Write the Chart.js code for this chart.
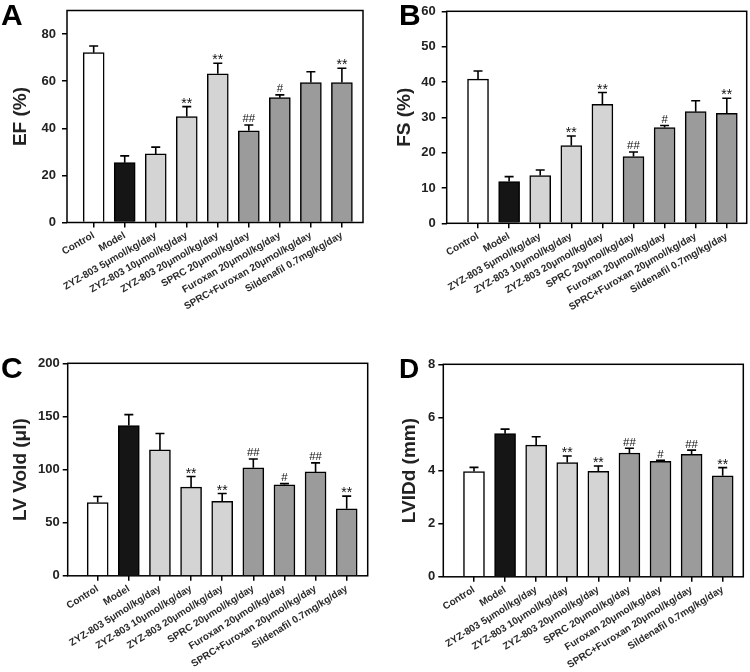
<!DOCTYPE html>
<html><head><meta charset="utf-8">
<script src="https://cdn.jsdelivr.net/npm/chart.js@4/dist/chart.umd.min.js"></script>
<style>
body{margin:0;background:#fff}
#wrap{position:relative;width:750px;height:672px;background:#fff}
canvas{position:absolute}
</style>
</head><body>
<div id="wrap">
<canvas id="cA" width="375" height="336" style="left:0;top:0"></canvas>
<canvas id="cB" width="375" height="336" style="left:375px;top:0"></canvas>
<canvas id="cC" width="375" height="336" style="left:0;top:336px"></canvas>
<canvas id="cD" width="375" height="336" style="left:375px;top:336px"></canvas>
</div>
<script>
// ---- data ----
const groups = ['Control','Model','ZYZ-803 5μmol/kg/day','ZYZ-803 10μmol/kg/day','ZYZ-803 20μmol/kg/day','SPRC 20μmol/kg/day','Furoxan 20μmol/kg/day','SPRC+Furoxan 20μmol/kg/day','Sildenafil 0.7mg/kg/day'];

const efMean = [72.1, 25.4, 29.1, 45.0, 63.1, 38.9, 53.0, 59.4, 59.4];
const efErr  = [2.8, 2.9, 2.9, 4.2, 4.5, 2.5, 1.2, 4.6, 6.1];
const efMarks = ['', '', '', '**', '**', '##', '#', '', '**'];
const efTicks = [0, 20, 40, 60, 80];

const fsMean = [40.8, 11.8, 13.5, 22.0, 33.7, 18.9, 27.1, 31.6, 31.1];
const fsErr  = [2.3, 1.4, 1.6, 2.7, 3.3, 1.3, 0.6, 3.1, 4.3];
const fsMarks = ['', '', '', '**', '**', '##', '#', '', '**'];
const fsTicks = [0, 10, 20, 30, 40, 50, 60];

const lvvMean = [69.0, 141.4, 118.5, 83.4, 70.0, 101.6, 85.6, 97.8, 63.0];
const lvvErr  = [5.6, 10.3, 15.5, 10.0, 7.4, 8.4, 1.2, 8.5, 12.0];
const lvvMarks = ['', '', '', '**', '**', '##', '#', '##', '**'];
const lvvTicks = [0, 50, 100, 150, 200];

const lviMean = [3.96, 5.39, 4.96, 4.30, 3.97, 4.66, 4.35, 4.61, 3.80];
const lviErr  = [0.16, 0.17, 0.31, 0.25, 0.20, 0.18, 0.04, 0.16, 0.31];
const lviMarks = ['', '', '', '**', '**', '##', '#', '##', '**'];
const lviTicks = [0, 2, 4, 6, 8];

// ---- styles ----
const barColors = ['#ffffff','#151515','#d4d4d4','#d4d4d4','#d4d4d4','#9b9b9b','#9b9b9b','#9b9b9b','#9b9b9b'];
const FAM = '"Liberation Sans", Arial, Helvetica, sans-serif';
const W = 375, H = 336;

const panels = [
  {id:'cA', means:efMean, errs:efErr, marks:efMarks, ticks:efTicks, yMax:90, title:'EF (%)', letter:'A',
   box:{left:67, top:10.5, right:363, bottom:222.5}, xMin:-0.86, xMax:8.68, rot:30, tickPad:6, titlePad:10,
   letterPos:[1,25], letterSize:30},
  {id:'cB', means:fsMean, errs:fsErr, marks:fsMarks, ticks:fsTicks, yMax:60, title:'FS (%)', letter:'B',
   box:{left:71.7, top:11.3, right:371.7, bottom:223.3}, xMin:-1.007, xMax:8.64, rot:30, tickPad:6, titlePad:19,
   letterPos:[24,25], letterSize:30},
  {id:'cC', means:lvvMean, errs:lvvErr, marks:lvvMarks, ticks:lvvTicks, yMax:200, title:'LV Vold (μl)', letter:'C',
   box:{left:67.7, top:27.3, right:367.7, bottom:239.8}, xMin:-0.964, xMax:8.675, rot:32, tickPad:3, titlePad:10,
   letterPos:[1,42], letterSize:30},
  {id:'cD', means:lviMean, errs:lviErr, marks:lviMarks, ticks:lviTicks, yMax:8, title:'LVIDd (mm)', letter:'D',
   box:{left:68.3, top:28.3, right:368.3, bottom:240.8}, xMin:-0.987, xMax:8.663, rot:32, tickPad:3, titlePad:24,
   letterPos:[24,42], letterSize:28}
];

function panelPlugin(p){
  return {
    id:'panelDeco_'+p.id,
    afterDatasetsDraw(chart){
      const {ctx, chartArea:a, scales:{x, y}} = chart;
      ctx.save();
      ctx.strokeStyle = '#000';
      ctx.lineWidth = 1.6;
      p.means.forEach((m, i) => {
        const px = x.getPixelForValue(i);
        const yb = y.getPixelForValue(m);
        const yt = y.getPixelForValue(m + p.errs[i]);
        ctx.beginPath();
        ctx.moveTo(px, yb); ctx.lineTo(px, yt);
        ctx.moveTo(px - 4.5, yt); ctx.lineTo(px + 4.5, yt);
        ctx.stroke();
        const mk = p.marks[i];
        if (mk) {
          ctx.fillStyle = '#111';
          ctx.textAlign = 'center';
          ctx.textBaseline = 'alphabetic';
          if (mk[0] === '*') {
            ctx.font = '14px ' + FAM;
            ctx.fillText(mk, px, yt + 1);
          } else {
            ctx.font = '11.5px ' + FAM;
            ctx.fillText(mk, px, yt - 2.5);
          }
        }
      });
      ctx.lineWidth = 1.5;
      ctx.strokeRect(a.left, a.top, a.right - a.left, a.bottom - a.top);
      ctx.fillStyle = '#000';
      ctx.font = 'bold ' + p.letterSize + 'px ' + FAM;
      ctx.textAlign = 'left';
      ctx.textBaseline = 'alphabetic';
      ctx.fillText(p.letter, p.letterPos[0], p.letterPos[1]);
      ctx.restore();
    }
  };
}

function makePanel(p){
  new Chart(document.getElementById(p.id), {
    type:'bar',
    data:{ datasets:[{
      data: p.means.map((v, i) => ({x:i, y:v})),
      backgroundColor: barColors,
      borderColor:'#000',
      borderWidth:1.5,
      borderSkipped:'bottom',
      barThickness:21
    }]},
    options:{
      responsive:false, animation:false, devicePixelRatio:1,
      layout:{padding:{top:p.box.top, right:W - p.box.right, left:0, bottom:0}},
      plugins:{legend:{display:false}, tooltip:{enabled:false}},
      scales:{
        x:{
          type:'linear', min:p.xMin, max:p.xMax, offset:false,
          grid:{display:true, drawOnChartArea:false, drawTicks:true, tickLength:5, color:'#000', lineWidth:1.5, offset:false},
          border:{display:false},
          afterBuildTicks: s => { s.ticks = groups.map((g, i) => ({value:i})); },
          ticks:{autoSkip:false, minRotation:p.rot, maxRotation:p.rot, padding:2,
                 font:{family:FAM, size:10, weight:'bold'}, color:'#2a2a2a',
                 callback:(v) => groups[v]},
          afterFit: s => { s.height = H - p.box.bottom; s.paddingLeft = 0; s.paddingRight = 0; }
        },
        y:{
          min:0, max:p.yMax,
          afterBuildTicks: s => { s.ticks = p.ticks.map(v => ({value:v})); },
          grid:{display:true, drawOnChartArea:false, drawTicks:true, tickLength:5, color:'#000', lineWidth:1.5},
          border:{display:false},
          ticks:{font:{family:FAM, size:13, weight:'bold'}, color:'#222', padding:p.tickPad},
          title:{display:true, text:p.title, color:'#222',
                 font:{family:FAM, size:19, weight:'bold', lineHeight:1.2},
                 padding:{top:p.titlePad - 0.6, bottom:0}},
          afterFit: s => { s.width = p.box.left; s.paddingTop = 0; s.paddingBottom = 0; }
        }
      }
    },
    plugins:[panelPlugin(p)]
  });
}

panels.forEach(makePanel);
</script>
</body></html>
